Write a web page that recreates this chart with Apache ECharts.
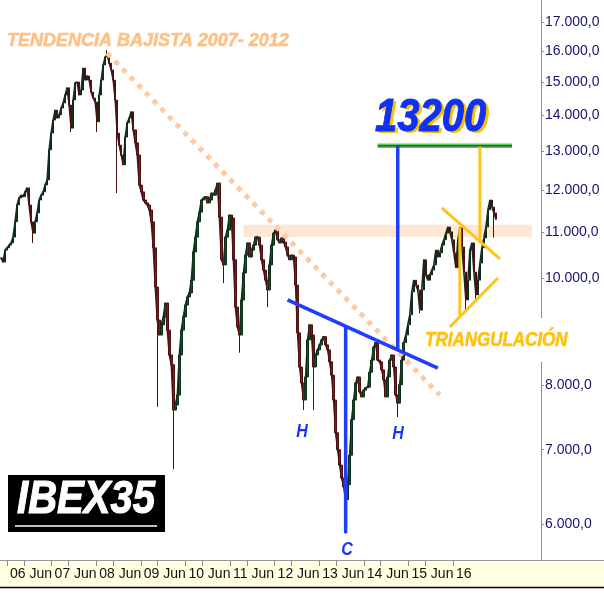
<!DOCTYPE html>
<html><head><meta charset="utf-8">
<script src="https://cdn.jsdelivr.net/npm/echarts@6/dist/echarts.min.js"></script>
<style>html,body{margin:0;padding:0;background:#fff}#c{width:604px;height:594px}</style>
</head><body><div id="c"></div>
<script>
// IBEX35, biweekly closes (2006 -> mid 2015)
const closes = [10420,10330,10590,10640,10700,10750,10880,11230,11630,11800,
 11870,11830,11950,12050,11630,11230,10970,11230,11440,11750,
 11870,11950,12120,12250,13040,13500,13870,14160,13930,14020,
 14220,14370,14610,14830,14310,13640,14460,14980,15010,14610,
 14760,15450,15070,15200,15070,14700,14520,14400,13820,14610,
 15070,15550,15810,15880,15610,15390,15070,14460,13500,13170,
 12900,12640,13390,13790,13930,14110,13590,13230,12900,12120,
 11950,11750,11680,11630,11510,11230,10640,9810,9160,8880,
 9070,9220,9490,8970,8520,8350,7600,7680,7840,8520,
 8970,9220,9450,9610,9690,9950,10550,10880,11230,11460,
 11750,11800,11830,11680,11750,11920,11870,12000,12170,11340,
 10380,10270,10880,11040,11390,11320,10380,9410,9030,8880,
 9550,10100,10480,10750,10440,10590,10700,10880,10880,10700,
 10380,10160,9950,9750,10270,10700,10970,11040,10820,10750,
 10860,10770,10660,10480,10380,10480,10440,9850,8920,8310,
 8040,7760,8140,8790,9070,8880,8310,8520,8610,8700,
 8790,8850,8700,8610,8400,8170,7760,7250,7000,6780,
 6600,6480,6310,6510,6920,7450,7760,8040,8140,7890,
 7810,7920,7960,7970,8220,8430,8660,8740,8430,8400,
 8260,8090,7810,8140,8430,8520,8310,7840,7710,8010,
 8430,8740,8880,9070,9260,9710,9950,9850,9750,9350,
 9750,10380,10060,9950,10060,10160,10270,10590,10440,10530,
 10700,10820,10970,11110,11000,10820,10530,10210,10820,11090,
 10660,10120,9550,9950,10590,10750,10120,9650,9950,10310,
 10640,10860,11110,11510,11750,11580,11440,11290];
// visible long lower / upper shadows (index -> price)
const wickLows = {16:10750,35:13530,48:13530,58:11920,78:7650,86:6720,111:9890,119:8560,133:9410,
 151:7600,156:7600,172:5880,198:7490,209:9290,232:9350,237:9570,246:10870};
const wickHighs = {53:16040};
const lastPrice = 11290.3;
const yTicks = [6000,7000,8000,10000,11000,12000,13000,14000,15000,16000,17000];
const xYears = ['06','07','08','09','10','11','12','13','14','15','16'];
const nCats = 270;

// annotation lines [categoryIndex, price]
const trendLine = [[53,15940],[219,7840]];
const resistanceBand = [[121,10880],[265,11160]];
const targetLine = [[188,13150],[255,13150]];
const projectionHCH = [[198,13150],[198,8610]];
const neckline = [[143,9550],[218,8290]];
const headDepth = [[172,9040],[172,5890]];
const triUpper = [[220,11560],[249,10400]];
const triLower = [[224,9030],[248,9995]];
const triHeight = [[229,11090],[229,9240]];
const triProjection = [[239,13150],[239,10750]];

const Y_MIN = 5568, Y_MAX = 17794;

const cats = [];
for (let i = 0; i < nCats; i++) {
  const d = new Date(2006, 0, 6 + 14 * i);
  cats.push(d.getFullYear() + '-' + (d.getMonth() + 1) + '-' + d.getDate());
}
const candles = closes.map((c, i) => {
  const o = i === 0 ? c : closes[i - 1];
  const lo = wickLows[i] !== undefined ? wickLows[i] : Math.min(o, c);
  const hi = wickHighs[i] !== undefined ? wickHighs[i] : Math.max(o, c);
  return [o, c, lo, hi];
});

function esNum(v, d) {
  const s = v.toFixed(d);
  const parts = s.split('.');
  const int = parts[0].replace(/\B(?=(\d{3})+(?!\d))/g, '.');
  return parts[1] ? int + ',' + parts[1] : int;
}

function seg(data, color, width, type, z) {
  return {type: 'line', data: data, symbol: 'none', silent: true, animation: false, z: z || 4,
    xAxisIndex: 0, yAxisIndex: 0,
    lineStyle: {color: color, width: width, type: type || 'solid', cap: 'butt'}};
}

const xTickVals = [];
xYears.forEach((y, k) => { xTickVals.push(k); if (k < xYears.length - 1) xTickVals.push(k + 0.38); });

const BLUE = '#1f3cff', YEL = '#ffc41c';
const FONT = '"Liberation Sans", Arial, sans-serif';

function txt(text, x, y, size, fill, opts) {
  opts = opts || {};
  return {type: 'text', z: opts.z || 100, silent: true, x: x, y: y, scaleY: opts.scaleY || 1,
    style: {text: text, fill: fill, font: 'italic bold ' + size + 'px ' + FONT,
      stroke: opts.stroke || null, lineWidth: opts.lineWidth || 0,
      align: opts.align || 'left', verticalAlign: 'middle',
      textAlign: opts.align || 'left', textVerticalAlign: 'middle'}};
}

const chart = echarts.init(document.getElementById('c'), null, {renderer: 'canvas'});
chart.setOption({
  animation: false,
  backgroundColor: '#ffffff',
  grid: {left: 0, right: 63, top: 0, bottom: 34, containLabel: false},
  xAxis: [
    {type: 'category', data: cats, show: false, boundaryGap: true},
    {type: 'value', min: -7 / 44.6, max: 534 / 44.6, position: 'bottom',
     splitLine: {show: false}, axisLine: {show: false},
     axisTick: {show: true, customValues: xTickVals, length: 6, lineStyle: {color: '#8a8a8a'}},
     axisLabel: {customValues: xYears.map((y, k) => k), align: 'left', margin: 7, padding: [0, 0, 0, 3],
       fontFamily: '"Liberation Sans Narrow", "Liberation Sans", Arial, sans-serif', fontSize: 14, color: '#111',
       formatter: v => { const k = Math.round(v); return xYears[k] + (k < xYears.length - 1 ? ' Jun' : ''); }}}
  ],
  yAxis: [
    {type: 'log', min: Y_MIN, max: Y_MAX, show: false, logBase: 10},
    {type: 'value', min: Math.log10(Y_MIN), max: Math.log10(Y_MAX), position: 'right',
     splitLine: {show: false},
     axisLine: {show: true, lineStyle: {color: '#8c8c8c', width: 1}},
     axisTick: {show: true, customValues: yTicks.map(Math.log10), length: 3, lineStyle: {color: '#8c8c8c'}},
     axisLabel: {customValues: yTicks.map(Math.log10), margin: 4, align: 'left',
       fontFamily: FONT, fontSize: 14, color: '#15156f',
       formatter: v => esNum(Math.round(Math.pow(10, v)), 1)}}
  ],
  series: [
    {type: 'line', data: resistanceBand, symbol: 'none', silent: true, z: 1,
     lineStyle: {opacity: 0},
     markArea: {silent: true, itemStyle: {color: '#fde7d5'},
       data: [[{coord: resistanceBand[0]}, {coord: resistanceBand[1]}]]}},
    {type: 'line', data: closes, symbol: 'none', silent: true, z: 2, xAxisIndex: 0, yAxisIndex: 0,
     lineStyle: {color: '#1c2a1f', width: 1.6}},
    {type: 'candlestick', data: candles, xAxisIndex: 0, yAxisIndex: 0, z: 2, barWidth: 2, silent: true,
     itemStyle: {color: '#0f5029', color0: '#841a1a', borderColor: '#0d2f1a', borderColor0: '#4d1010', borderWidth: 1},
     markLine: {symbol: 'none', silent: true, animation: false, lineStyle: {opacity: 0},
       label: {position: 'end', distance: 4, formatter: () => esNum(lastPrice, 1), fontSize: 8,
         fontFamily: FONT, color: '#333', backgroundColor: '#ffffc4',
         borderColor: '#777', borderWidth: 1, padding: [1, 2, 0, 2]},
       data: [{yAxis: lastPrice}]}},
    seg(trendLine, '#ffc9a2', 5, [5, 6], 3),
    seg(targetLine, '#5cc65c', 4.5, 'solid', 4),
    seg(targetLine, '#1f4f1f', 1.2, 'solid', 5),
    seg(neckline, BLUE, 3.5),
    seg(projectionHCH, BLUE, 3.5),
    seg(headDepth, BLUE, 3.5),
    seg(triUpper, YEL, 3),
    seg(triLower, YEL, 3),
    seg(triHeight, YEL, 3),
    seg(triProjection, YEL, 3)
  ],
  graphic: [
    {type: 'rect', z: -1, silent: true, shape: {x: 0, y: 560, width: 604, height: 28}, style: {fill: '#ffffe2'}},
    {type: 'line', z: 1, silent: true, shape: {x1: 0, y1: 560.5, x2: 604, y2: 560.5}, style: {stroke: '#9a9a9a', lineWidth: 1}},
    {type: 'line', z: 1, silent: true, shape: {x1: 0, y1: 587.5, x2: 604, y2: 587.5}, style: {stroke: '#000', lineWidth: 1.5}},
    {type: 'rect', z: 50, silent: true, shape: {x: 535, y: 318, width: 12, height: 44}, style: {fill: '#fff'}},
    txt('TENDENCIA BAJISTA 2007- 2012', 7, 41, 18, '#ffc086', {stroke: '#ffc086', lineWidth: 0.6}),
    txt('13200', 378, 120, 40, '#f7c000', {scaleY: 1.15}),
    txt('13200', 375, 118, 40, '#1030f2', {scaleY: 1.15, z: 101, stroke: '#1030f2', lineWidth: 0.8}),
    txt('TRIANGULACIÓN', 425, 340, 17, '#ffc20e', {scaleY: 1.2, stroke: '#ffc20e', lineWidth: 0.5}),
    txt('H', 302, 432, 16, '#1a35f5', {scaleY: 1.15, align: 'center'}),
    txt('H', 398, 434, 16, '#1a35f5', {scaleY: 1.15, align: 'center'}),
    txt('C', 347, 550, 16, '#1a35f5', {scaleY: 1.15, align: 'center'}),
    {type: 'rect', z: 100, silent: true, shape: {x: 8, y: 475, width: 157, height: 57}, style: {fill: '#000'}},
    txt('IBEX35', 86, 500, 40, '#fff', {scaleY: 1.16, align: 'center', z: 101, stroke: '#fff', lineWidth: 1}),
    {type: 'line', z: 101, silent: true, shape: {x1: 15, y1: 526, x2: 157, y2: 526}, style: {stroke: '#fff', lineWidth: 1.5}}
  ]
});
</script></body></html>
